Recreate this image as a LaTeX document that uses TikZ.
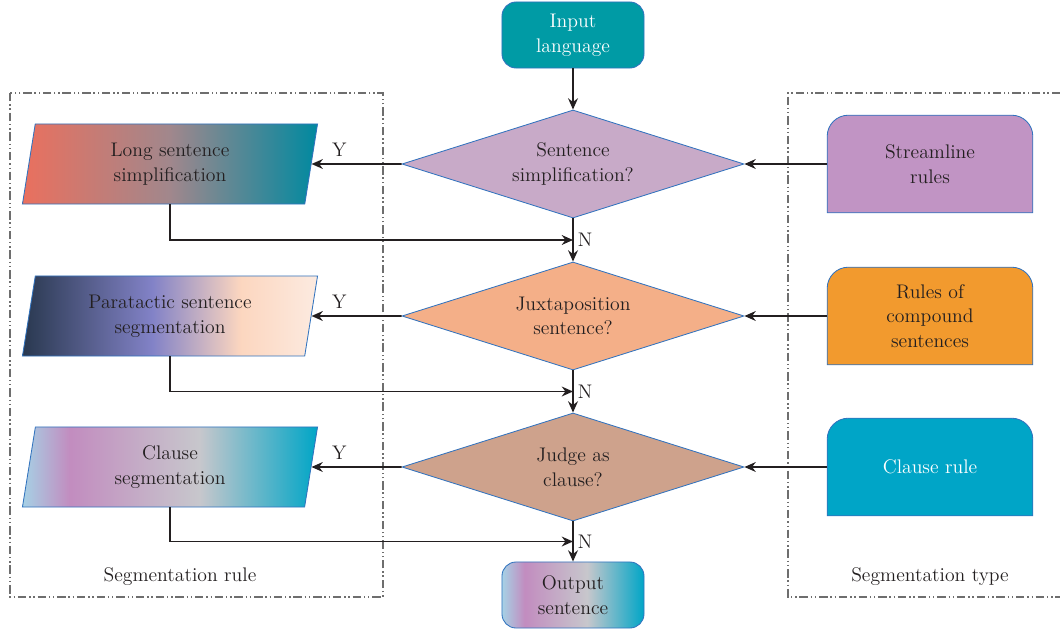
\documentclass[tikz,border=0pt]{standalone}
\usetikzlibrary{shapes.geometric, arrows.meta, calc, backgrounds}

\definecolor{inkc}{RGB}{35,31,32}
\definecolor{edgec}{RGB}{50,115,190}
\definecolor{framec}{RGB}{110,110,110}
\definecolor{tealc}{RGB}{0,155,165}
\definecolor{dOne}{RGB}{200,170,200}
\definecolor{dTwo}{RGB}{244,175,136}
\definecolor{dThree}{RGB}{206,162,140}
\definecolor{rOne}{RGB}{193,148,196}
\definecolor{rTwo}{RGB}{242,154,46}
\definecolor{rThree}{RGB}{0,165,199}

% gradients for the output shapes
\pgfdeclarehorizontalshading{shadeOne}{100bp}{rgb(0bp)=(0.918,0.439,0.369); rgb(25bp)=(0.918,0.439,0.369);
  rgb(50bp)=(0.63,0.53,0.55); rgb(75bp)=(0,0.537,0.627); rgb(100bp)=(0,0.537,0.627)}
\pgfdeclarehorizontalshading{shadeTwo}{100bp}{rgb(0bp)=(0.16,0.22,0.31); rgb(25bp)=(0.16,0.22,0.31);
  rgb(47bp)=(0.51,0.51,0.78); rgb(62bp)=(0.99,0.84,0.75); rgb(75bp)=(0.99,0.92,0.88); rgb(100bp)=(0.99,0.92,0.88)}
\pgfdeclarehorizontalshading{shadeThree}{100bp}{rgb(0bp)=(0.65,0.82,0.90); rgb(25bp)=(0.65,0.82,0.90);
  rgb(33bp)=(0.76,0.55,0.75); rgb(55bp)=(0.78,0.78,0.80); rgb(75bp)=(0,0.65,0.78); rgb(100bp)=(0,0.65,0.78)}

\tikzset{
  txt/.style={font=\fontsize{14}{17.5}\selectfont, text=inkc, align=center},
  termbox/.style={txt, draw=edgec, line width=0.6pt, rounded corners=10pt,
    minimum width=3.55cm, minimum height=1.65cm},
  decide/.style={txt, diamond, aspect=3.17, draw=edgec, line width=0.6pt, inner sep=0pt,
    minimum width=8.55cm, minimum height=2.7cm},
  result/.style={txt, trapezium, trapezium left angle=76, trapezium right angle=104,
    trapezium stretches body, draw=edgec, line width=0.6pt,
    minimum width=7.375cm, minimum height=2cm},
  rulebox/.style={txt, minimum width=5.125cm, minimum height=2.425cm},
  flow/.style={draw=inkc, line width=1.3pt, -{Stealth[length=8pt, width=7pt]}},
  frame/.style={draw=framec, line width=0.8pt,
    dash pattern=on 6pt off 2pt on 1pt off 2pt on 1pt off 2pt},
}

\begin{document}
\begin{tikzpicture}[x=0.025cm, y=-0.025cm]
    \useasboundingbox (0,0) rectangle (1060,631);

    % Frames
    \draw [frame] (10,93) rectangle (383,597);
    \draw [frame] (1060,93) -| (788,597) -- (1060,597);
    \node [txt] (ruletag) at (180,577) {Segmentation rule};
    \node [txt] (typetag) at (930,577) {Segmentation type};

    % Start and end
    \node [termbox, fill=tealc, text=white] (in) at (573,35) {Input\\language};
    \node [termbox, shading=shadeThree] (out) at (573,595) {Output\\sentence};

    % Rows: decision, result, rule
    \foreach \i/\yy/\dtext/\dcol/\ptext/\pshade/\rtext/\rcol/\rink in {
        1/164/{Sentence\\simplification?}/dOne/{Long sentence\\simplification}/shadeOne/{Streamline\\rules}/rOne/inkc,
        2/316/{Juxtaposition\\sentence?}/dTwo/{Paratactic sentence\\segmentation}/shadeTwo/{Rules of\\compound\\sentences}/rTwo/inkc,
        3/467/{Judge as\\clause?}/dThree/{Clause\\segmentation}/shadeThree/{Clause rule}/rThree/white} {
      \node [decide, fill=\dcol] (d\i) at (573,\yy) {\dtext};
      \node [result, shading=\pshade] (p\i) at (170,\yy) {\ptext};
      \node [rulebox, text=\rink] (r\i) at (930,\yy) {\rtext};
      \begin{scope}[on background layer]
        \filldraw [fill=\rcol, draw=edgec, line width=0.6pt]
          (r\i.south west) -- ([yshift=-15pt]r\i.north west)
          arc [start angle=180, end angle=90, radius=15pt]
          -- ([xshift=-15pt]r\i.north east)
          arc [start angle=90, end angle=0, radius=15pt]
          -- (r\i.south east) -- cycle;
      \end{scope}
      \draw [flow] (r\i) -- (d\i);
      \draw [flow] (d\i) -- (p\i.east) node [txt, pos=0.69, above=1pt] (y\i) {Y};
    }
    \draw [flow] (in) -- (d1);

    % Connections
    \foreach \a/\b [count=\i] in {d1/d2, d2/d3, d3/out} {
      \coordinate (j\i) at ($(\a.south)!0.5!(\b.north)$);
      \draw [flow] (\a) -- (\b);
      \node [txt, right=0pt] (n\i) at (j\i) {N};
      \draw [flow] (p\i.south) |- (j\i);
    }
\end{tikzpicture}
\end{document}
